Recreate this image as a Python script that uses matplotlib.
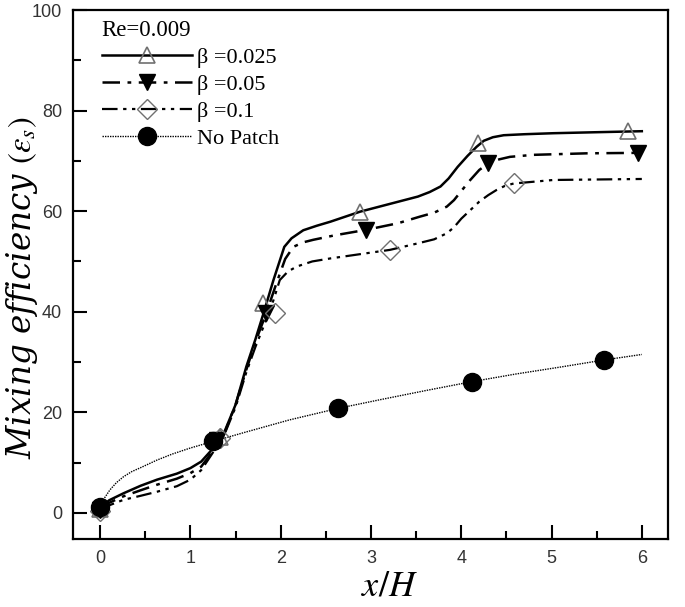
import matplotlib
matplotlib.use("Agg")
import matplotlib.pyplot as plt
from matplotlib.ticker import MultipleLocator
from matplotlib import font_manager

# ---- data ----
x_b025 = [0, 0.1, 0.26, 0.45, 0.63, 0.85, 1.0, 1.12, 1.22, 1.37, 1.5, 1.62, 1.72, 1.81, 1.92, 2.04,
          2.12, 2.25, 2.4, 2.55, 2.88, 3.2, 3.52, 3.65, 3.77, 3.86, 3.96, 4.07, 4.17, 4.25, 4.35,
          4.47, 4.7, 5.02, 5.5, 6.0]
y_b025 = [1.0, 2.5, 3.9, 5.4, 6.6, 7.8, 8.9, 10.2, 12.2, 15.8, 21.5, 29.1, 34.5, 39.7, 46.3, 52.9,
          54.6, 56.2, 57.1, 57.9, 59.9, 61.4, 62.9, 63.8, 64.9, 66.5, 68.8, 71.0, 72.8, 74.0, 74.7,
          75.1, 75.3, 75.5, 75.7, 75.9]
mx_b025 = [0, 1.33, 1.80, 2.88, 4.19, 5.85]
my_b025 = [0.8, 15.0, 41.7, 59.9, 73.5, 76.0]

x_b05 = [0, 0.1, 0.26, 0.45, 0.63, 0.85, 1.0, 1.12, 1.22, 1.37, 1.5, 1.62, 1.72, 1.84, 1.95, 2.05,
         2.14, 2.25, 2.36, 2.6, 2.95, 3.3, 3.54, 3.7, 3.84, 3.92, 4.0, 4.10, 4.2, 4.30, 4.42, 4.54,
         4.8, 5.39, 6.0]
y_b05 = [0.8, 2.0, 3.3, 4.5, 5.6, 6.8, 7.9, 9.2, 11.6, 15.5, 21.5, 28.5, 34.0, 39.7, 45.5, 50.5,
         52.9, 53.8, 54.3, 55.2, 56.3, 57.6, 58.9, 59.7, 60.9, 62.2, 64.0, 66.2, 68.2, 69.5, 70.3, 70.8,
         71.2, 71.5, 71.6]
mx_b05 = [0, 1.30, 1.84, 2.95, 4.30, 5.96]
my_b05 = [0.6, 14.5, 39.7, 56.3, 69.5, 71.5]

x_b1 = [0, 0.1, 0.26, 0.45, 0.63, 0.85, 1.0, 1.12, 1.22, 1.37, 1.5, 1.62, 1.72, 1.84, 1.92, 1.99,
        2.08, 2.18, 2.35, 2.55, 2.9, 3.21, 3.52, 3.7, 3.84, 3.92, 4.0, 4.10, 4.2, 4.3, 4.39, 4.48,
        4.58, 5.02, 6.0]
y_b1 = [0.5, 1.5, 2.6, 3.4, 4.2, 5.3, 6.6, 8.5, 11.2, 15.3, 21.0, 28.0, 33.0, 38.4, 42.3, 46.3,
        48.0, 49.0, 50.0, 50.6, 51.5, 52.3, 53.6, 54.4, 55.6, 56.8, 58.5, 60.2, 61.9, 63.2, 64.2, 65.0,
        65.5, 66.2, 66.4]
mx_b1 = [0, 1.33, 1.94, 3.21, 4.58]
my_b1 = [0.4, 14.8, 39.7, 52.3, 65.5]

x_np = [0, 0.05, 0.11, 0.18, 0.26, 0.35, 0.45, 0.63, 0.8, 1.0, 1.25, 1.6, 2.1, 2.64, 3.1, 3.6,
        4.12, 4.6, 5.1, 5.58, 6.0]
y_np = [1.2, 3.0, 4.6, 6.0, 7.2, 8.2, 9.0, 10.5, 11.7, 12.9, 14.2, 16.0, 18.5, 20.8, 22.5, 24.3,
        26.1, 27.6, 29.0, 30.4, 31.5]
mx_np = [0, 1.25, 2.64, 4.12, 5.58]
my_np = [1.2, 14.2, 20.8, 26.1, 30.4]

labels = ["β =0.025", "β =0.05", "β =0.1", "No Patch"]
legend_title = "Re=0.009"
x_ticks = [0, 1, 2, 3, 4, 5, 6]
y_ticks = [0, 20, 40, 60, 80, 100]

# ---- style ----
avail = {f.name for f in font_manager.fontManager.ttflist}
tick_family = ["Liberation Sans Narrow", "Liberation Sans", "DejaVu Sans"]
tick_family = [f for f in tick_family if f in avail] or ["DejaVu Sans"]
serif = ["Liberation Serif", "DejaVu Serif"]
plt.rcParams["mathtext.fontset"] = "stix"

fig = plt.figure(figsize=(6.85, 6.07), dpi=100)
ax = fig.add_axes([0.1066, 0.1120, 0.9752 - 0.1066, 0.9835 - 0.1120])

gray = "#707070"
specs = [
    (x_b025, y_b025, mx_b025, my_b025, "-", "^", dict(mfc="none", mec=gray, ms=11, mew=1.2)),
    (x_b05, y_b05, mx_b05, my_b05, (0, (7, 3, 1.5, 3)), "v", dict(mfc="black", mec="black", ms=11, mew=1)),
    (x_b1, y_b1, mx_b1, my_b1, (0, (7, 2.5, 1.5, 2.5, 1.5, 2.5)), "D", dict(mfc="none", mec=gray, ms=10, mew=1.0)),
    (x_np, y_np, mx_np, my_np, (0, (1, 0.8)), "o", dict(mfc="black", mec="black", ms=13, mew=1)),
]
lws = [1.8, 1.8, 1.6, 1.0]
handles = []
for (xs, ys, mxs, mys, ls, mk, mkw), lw, lab in zip(specs, lws, labels):
    ax.plot(xs, ys, color="black", lw=lw, ls=ls, zorder=2)
    ax.plot(mxs, mys, ls="none", marker=mk, zorder=3, **mkw)
    h, = ax.plot([], [], color="black", lw=lw, ls=ls, marker=mk, **mkw)
    h.set_label(lab)
    handles.append(h)

ax.set_xlim(-0.30, 6.29)
ax.set_ylim(-5.2, 100)
ax.xaxis.set_minor_locator(MultipleLocator(0.5))
ax.yaxis.set_minor_locator(MultipleLocator(10))
ax.set_xticks(x_ticks)
ax.set_yticks(y_ticks)
ax.tick_params(which="both", direction="in", top=False, right=False, width=1.5)
ax.tick_params(which="major", length=10, labelsize=13, labelcolor="#333333", pad=8)
ax.tick_params(which="minor", length=6)
for lab in ax.get_xticklabels() + ax.get_yticklabels():
    lab.set_family(tick_family)
for sp in ax.spines.values():
    sp.set_linewidth(1.6)

ax.set_xlabel("$x/H$", fontsize=26)
ax.xaxis.set_label_coords(0.531, -0.056)
ax.set_ylabel("Mixing efficiency $(\\varepsilon_s)$", fontsize=23.5,
              family=["DejaVu Serif"], style="italic")
ax.yaxis.set_label_coords(-0.056, 0.475)

leg = ax.legend(handles=handles, loc="upper left", bbox_to_anchor=(0.048, 0.982),
                frameon=False, numpoints=1, handlelength=4.05, handletextpad=0.25,
                labelspacing=0.29, borderaxespad=0.0, borderpad=0.0,
                title=legend_title, alignment="left",
                prop=dict(family=serif, size=16), title_fontproperties=dict(family=serif, size=16.5))

fig.savefig("out.png", dpi=100)
